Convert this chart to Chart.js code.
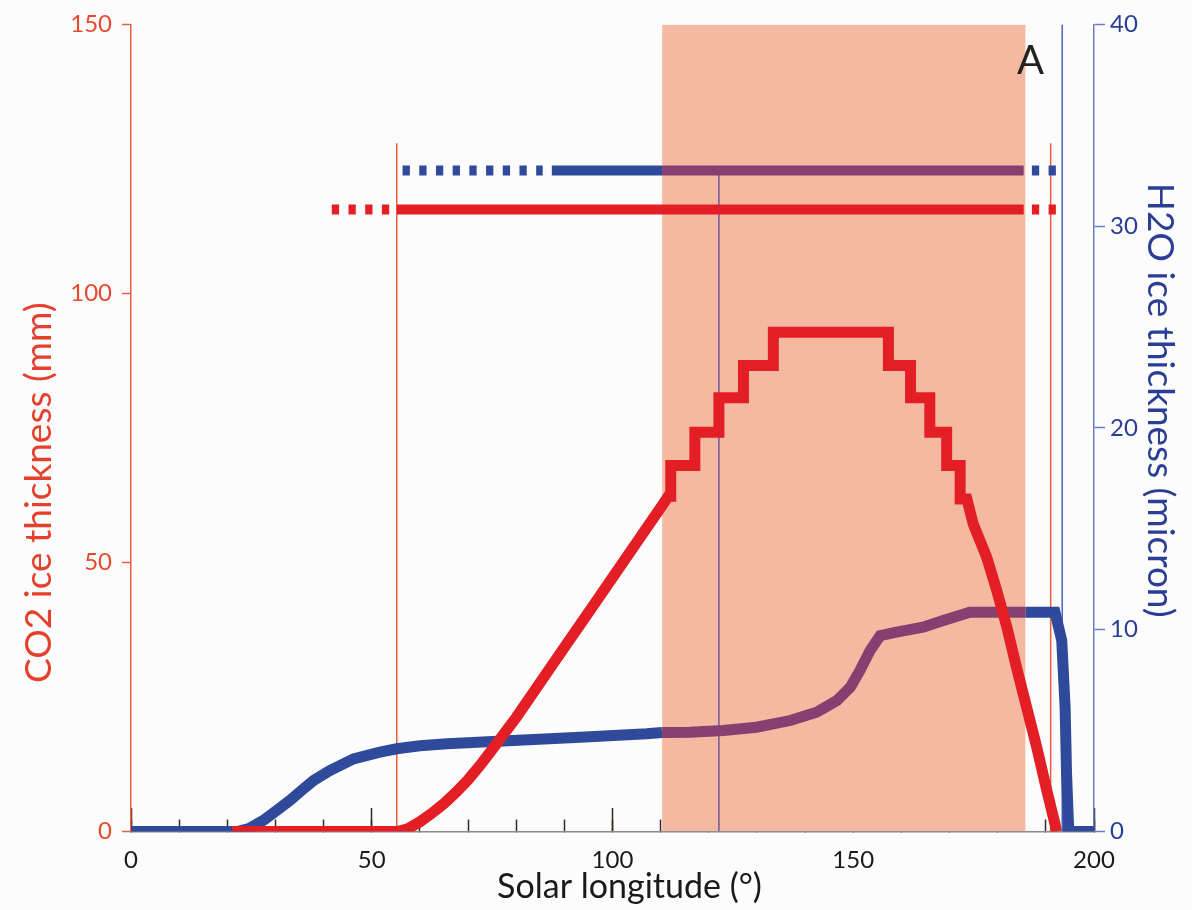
<!DOCTYPE html>
<html>
<head>
<meta charset="utf-8">
<script src="https://cdn.jsdelivr.net/npm/chart.js@4.4.1/dist/chart.umd.min.js"></script>
<style>
  body { margin: 0; background: #fcfcfc; }
  #wrap { position: relative; width: 1192px; height: 910px; }
  #panel { position: absolute; left: 1017px; top: 39px; font: 40px Lato, sans-serif; line-height: 1; color: #222; }
</style>
</head>
<body>
<div id="wrap">
  <canvas id="iceChart" width="1192" height="910"></canvas>
  <span id="panel">A</span>
</div>
<script>
// CO2 ice thickness (mm) vs solar longitude (deg)
const co2Ls = [21, 55.2, 57.5, 60, 62.5, 65, 67.5, 70, 72.5, 75, 77.5, 80, 85, 90, 95, 100, 105, 110, 111.6,
  112.1, 112.1, 117.1, 117.1, 122.1, 122.1, 127.2, 127.2, 133.4, 133.4,
  157.3, 157.3, 161.9, 161.9, 165.9, 165.9, 169.4, 169.4, 172.2, 172.2, 173.6,
  174.9, 177.7, 179.8, 181.9, 183.9, 186.0, 188.1, 190.2, 191.9, 192.2];
const co2Mm = [0, 0, 0.5, 1.8, 3.4, 5.2, 7.3, 9.6, 12.3, 15.2, 18.2, 21.2, 27.7, 34.2, 40.7, 47.2, 53.7, 60.2, 62.3,
  62.3, 68.0, 68.0, 74.2, 74.2, 80.6, 80.6, 86.6, 86.6, 92.8,
  92.8, 86.6, 86.6, 80.6, 80.6, 74.2, 74.2, 68.0, 68.0, 61.8, 61.8,
  57.2, 51.0, 44.8, 38.0, 30.5, 23.1, 15.7, 7.6, 1.4, 0];

// H2O ice thickness (micron) vs solar longitude (deg)
const h2oLs = [0, 22, 24.5, 27.5, 30, 33, 35.5, 37.9, 41.3, 46.2, 51.7, 55.2, 60, 65.6, 79.4, 93.3, 107.1, 110.3,
  116.1, 123.0, 129.9, 136.9, 142.4, 146.6, 149.4, 151.4, 153.5, 155.6, 159.0, 164.5, 168.7, 174.2, 185.8,
  191.9, 193.3, 194.0, 194.3, 194.7, 194.7, 200];
const h2oMicron = [0, 0, 0.15, 0.55, 1.0, 1.54, 2.05, 2.53, 3.02, 3.60, 3.93, 4.10, 4.25, 4.35, 4.51, 4.67, 4.84, 4.91,
  4.92, 5.01, 5.17, 5.50, 5.91, 6.49, 7.15, 7.98, 8.97, 9.71, 9.88, 10.13, 10.46, 10.87, 10.87,
  10.87, 9.47, 6.16, 2.86, 0.38, 0, 0];

// shaded Ls window
const shadeLs = [110.3, 185.8];

// presence bars (red on CO2 axis, blue on H2O axis)
const co2BarMm = 115.6;
const co2BarSolidLs = [55.2, 185.4];
const co2BarDashLs = [[41.7, 53.8], [187.1, 192.3]];
const h2oBarMicron = 32.76;
const h2oBarSolidLs = [87.4, 110.3, 185.4];
const h2oBarDashLs = [[56.4, 85.5], [187.1, 192.3]];

// thin marker lines
const co2MarkLs = [55.2, 191.0];
const co2MarkTopMm = 127.9;
const h2oMarkLs = 122.1;
const h2oEdgeLs = 193.4;

const xLabelTicks = [0, 50, 100, 150, 200];

const RED = '#e31e25';
const BLUE = '#2f4a9a';
const PURPLE = '#853f70';
const PINK = '#f4b9a0';
const FONT = 'Lato, sans-serif';
const EN = '\u2002';

const pts = (xs, ys) => xs.map((x, i) => ({ x, y: Array.isArray(ys) ? ys[i] : ys }));

function inShade(ctx) {
    const mid = (ctx.p0.parsed.x + ctx.p1.parsed.x) / 2;
    return mid > shadeLs[0] && mid < shadeLs[1];
}

const thick = { pointRadius: 0, borderWidth: 11, borderJoinStyle: 'miter', borderCapStyle: 'butt', fill: false, tension: 0 };
const bar = { ...thick, borderWidth: 10 };
const thin = { pointRadius: 0, borderWidth: 1.5, fill: false };

const datasets = [
    { ...thick, data: pts(co2Ls, co2Mm), borderColor: RED, yAxisID: 'y', order: 0 },
    { ...thick, data: pts(h2oLs, h2oMicron), borderColor: BLUE, yAxisID: 'y2', order: 1,
      segment: { borderColor: (ctx) => inShade(ctx) ? PURPLE : BLUE } },

    { ...bar, data: pts(co2BarSolidLs, co2BarMm), borderColor: RED, yAxisID: 'y', order: 2 },
    ...co2BarDashLs.map((r) => ({ ...bar, data: pts(r, co2BarMm), borderColor: RED, borderDash: [7.3, 9.4], yAxisID: 'y', order: 2 })),
    { ...bar, data: pts(h2oBarSolidLs, h2oBarMicron), borderColor: BLUE, yAxisID: 'y2', order: 2,
      segment: { borderColor: (ctx) => inShade(ctx) ? PURPLE : BLUE } },
    ...h2oBarDashLs.map((r) => ({ ...bar, data: pts(r, h2oBarMicron), borderColor: BLUE, borderDash: [7.3, 9.4], yAxisID: 'y2', order: 2 })),

    ...co2MarkLs.map((x) => ({ ...thin, data: pts([x, x], [0, co2MarkTopMm]), borderColor: '#e5603a', yAxisID: 'y', order: 3 })),
    { ...thin, data: pts([h2oMarkLs, h2oMarkLs], [0, h2oBarMicron]), borderColor: '#74589c', yAxisID: 'y2', order: 3 },
    { ...thin, data: pts([h2oEdgeLs, h2oEdgeLs], [0, 40]), borderColor: '#4a62c0', yAxisID: 'y2', order: 3 },

    { data: pts(shadeLs, 150), yAxisID: 'y', pointRadius: 0, borderWidth: 0, backgroundColor: PINK, fill: 'origin', order: 4 },
];

new Chart(document.getElementById('iceChart').getContext('2d'), {
    type: 'line',
    data: { datasets },
    options: {
        responsive: false,
        animation: false,
        devicePixelRatio: 1,
        layout: { padding: { top: 24, left: 0, right: 0, bottom: 0 } },
        plugins: { legend: { display: false }, tooltip: { enabled: false } },
        scales: {
            x: {
                type: 'linear', position: 'bottom', min: 0, max: 200,
                ticks: {
                    stepSize: 10, autoSkip: false, maxRotation: 0, padding: 26,
                    font: { family: FONT, size: 24 }, color: '#1a1a1a',
                    callback: (v) => xLabelTicks.includes(v) ? String(v) : '',
                },
                grid: { drawOnChartArea: false, tickLength: -12, tickColor: '#3a2a25', tickWidth: 1.5 },
                border: { color: '#8a8a8a', width: 1.5 },
                // title sits a little right of the axis centre in the original
                title: { display: true, text: EN + EN + 'Solar longitude (°)', color: '#1a1a1a',
                         font: { family: FONT, size: 34 }, padding: { top: 0, bottom: 3 } },
                afterFit: (s) => { s.height = 78.5; },
            },
            x2: {
                type: 'linear', position: { y: 0 }, min: 0, max: 200,
                ticks: { stepSize: 50, display: false },
                grid: { drawOnChartArea: false, tickLength: -24, tickColor: '#3a2a25', tickWidth: 1.5 },
                border: { display: false },
            },
            y: {
                position: 'left', min: 0, max: 150,
                ticks: { stepSize: 50, padding: 10, font: { family: FONT, size: 24 }, color: '#e64a2e' },
                grid: { drawOnChartArea: false, tickLength: 9, tickColor: '#e8603c', tickWidth: 1.5 },
                border: { color: '#e8603c', width: 1.5 },
                // trailing spaces push the rotated title down, as in the original
                title: { display: true, text: 'CO2 ice thickness (mm)' + EN.repeat(7), color: '#e5402b',
                         font: { family: FONT, size: 37 }, padding: { top: 17, bottom: 0 } },
                afterFit: (s) => { s.width = 131; },
            },
            y2: {
                position: 'right', min: 0, max: 40,
                ticks: { stepSize: 10, padding: 5, font: { family: FONT, size: 24 }, color: '#2b3e95' },
                grid: { drawOnChartArea: false, tickLength: 11, tickColor: '#6b7bc4', tickWidth: 1.5 },
                border: { color: '#6b7bc4', width: 1.5 },
                title: { display: true, text: 'H2O ice thickness (micron)' + EN.repeat(3), color: '#2b3e95',
                         font: { family: FONT, size: 37 }, padding: { top: 10, bottom: 0 } },
                afterFit: (s) => { s.width = 98; },
            },
        },
    },
});
</script>
</body>
</html>
